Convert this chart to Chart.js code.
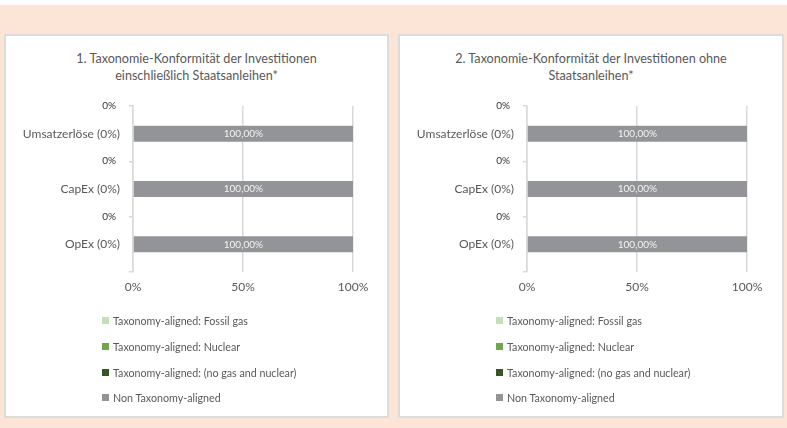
<!DOCTYPE html>
<html>
<head>
<meta charset="utf-8">
<script src="https://cdn.jsdelivr.net/npm/chart.js@4.4.0/dist/chart.umd.min.js"></script>
<style>
  body { margin: 0; width: 787px; height: 428px; background: #fce4d6; position: relative; overflow: hidden; font-family: Lato, sans-serif; }
  .topstrip { position: absolute; left: 0; top: 0; width: 787px; height: 5px; background: #fdfdfd; }
  .panel { position: absolute; top: 34px; height: 384px; background: #fff; border: 2px solid #dcdcdc; box-sizing: border-box; }
  #p1 { left: 4px; width: 385px; }
  #p2 { left: 398px; width: 386px; }
  .title { position: absolute; left: 0; right: 0; top: 13.5px; text-align: center; font-size: 12.6px; line-height: 17px; color: #595959; }
  .chartbox { position: absolute; left: 0; top: 0; right: 0; height: 380px; }
  .legend { position: absolute; left: 96px; top: 272px; }
  .legend .item { height: 25.7px; display: flex; align-items: center; font-size: 10.7px; color: #595959; white-space: nowrap; }
  .legend .sw { width: 7px; height: 7px; margin-right: 4px; }
</style>
</head>
<body>
<div class="topstrip"></div>
<div class="panel" id="p1">
  <div class="title" id="title1"></div>
  <div class="chartbox"><canvas id="chart1"></canvas></div>
  <div class="legend" id="legend1"></div>
</div>
<div class="panel" id="p2">
  <div class="title" id="title2"></div>
  <div class="chartbox"><canvas id="chart2"></canvas></div>
  <div class="legend" id="legend2"></div>
</div>
<script>
const categories = ['Umsatzerlöse (0%)', 'CapEx (0%)', 'OpEx (0%)'];
const seriesNames = [
  'Taxonomy-aligned: Fossil gas',
  'Taxonomy-aligned: Nuclear',
  'Taxonomy-aligned: (no gas and nuclear)',
  'Non Taxonomy-aligned'
];
const seriesColors = ['#c5e0b4', '#70a848', '#375623', '#929497'];

const title1Lines = ['1. Taxonomie-Konformität der Investitionen', 'einschließlich Staatsanleihen*'];
const title2Lines = ['2. Taxonomie-Konformität der Investitionen ohne', 'Staatsanleihen*'];

// chart 1: incl. sovereign bonds
const withFossilGas = [0, 0, 0];
const withNuclear = [0, 0, 0];
const withNoGasNuclear = [0, 0, 0];
const withNonAligned = [100, 100, 100];

// chart 2: excl. sovereign bonds
const withoutFossilGas = [0, 0, 0];
const withoutNuclear = [0, 0, 0];
const withoutNoGasNuclear = [0, 0, 0];
const withoutNonAligned = [100, 100, 100];

const xTicks = [0, 50, 100];

const textGrey = '#595959';
const gridGrey = '#d9d9d9';

const valueLabels = {
  id: 'valueLabels',
  afterDatasetsDraw(chart) {
    const ctx = chart.ctx;
    const zeroDone = {};
    ctx.save();
    ctx.font = '10px Lato, sans-serif';
    ctx.textBaseline = 'middle';
    chart.data.datasets.forEach((ds, di) => {
      const meta = chart.getDatasetMeta(di);
      meta.data.forEach((bar, i) => {
        const v = ds.data[i];
        if (v > 0) {
          ctx.fillStyle = '#f2f2f2';
          ctx.textAlign = 'center';
          ctx.fillText(v.toFixed(2).replace('.', ',') + '%', (bar.x + bar.base) / 2, bar.y);
        } else if (!zeroDone[i]) {
          // zero segments all sit on the same spot, above the bar left of the axis
          zeroDone[i] = true;
          ctx.fillStyle = '#333333';
          ctx.textAlign = 'right';
          ctx.fillText(v + '%', chart.chartArea.left - 17, bar.y - 28);
        }
      });
    });
    ctx.restore();
  }
};

function buildChart(canvasId, legendId, titleId, titleLines, values) {
  document.getElementById(titleId).innerHTML = titleLines.join('<br>');
  const canvas = document.getElementById(canvasId);
  const w = canvas.parentNode.clientWidth;

  const chart = new Chart(canvas, {
    type: 'bar',
    data: {
      labels: categories,
      datasets: seriesNames.map((name, i) => ({
        label: name,
        data: values[i],
        backgroundColor: seriesColors[i],
        borderWidth: 0,
        barPercentage: 0.29,
        categoryPercentage: 1
      }))
    },
    options: {
      indexAxis: 'y',
      responsive: true,
      maintainAspectRatio: false,
      animation: false,
      layout: { padding: { top: 70, left: 0, right: w - 347, bottom: 120 } },
      plugins: {
        legend: { display: false },
        title: { display: false },
        tooltip: { enabled: false }
      },
      scales: {
        x: {
          stacked: true,
          min: 0,
          max: 100,
          afterBuildTicks: scale => { scale.ticks = xTicks.map(v => ({ value: v })); },
          afterFit: scale => { scale.height = 24; },
          ticks: {
            padding: 8,
            color: textGrey,
            font: { family: 'Lato', size: 12 },
            callback: v => v + '%'
          },
          grid: { color: gridGrey, lineWidth: 1.5, drawTicks: false },
          border: { display: false }
        },
        y: {
          stacked: true,
          afterFit: scale => { scale.width = 127; },
          ticks: {
            padding: 9,
            color: textGrey,
            font: { family: 'Lato', size: 12 }
          },
          grid: { drawOnChartArea: false, drawTicks: true, tickLength: 4, color: gridGrey, lineWidth: 1.5 },
          border: { display: true, color: gridGrey, width: 1.5 }
        }
      }
    },
    plugins: [valueLabels]
  });

  const legend = document.getElementById(legendId);
  legend.innerHTML = chart.data.datasets.map(ds =>
    `<div class="item"><span class="sw" style="background:${ds.backgroundColor}"></span>${ds.label}</div>`
  ).join('');
  return chart;
}

buildChart('chart1', 'legend1', 'title1', title1Lines,
  [withFossilGas, withNuclear, withNoGasNuclear, withNonAligned]);
buildChart('chart2', 'legend2', 'title2', title2Lines,
  [withoutFossilGas, withoutNuclear, withoutNoGasNuclear, withoutNonAligned]);
</script>
</body>
</html>
